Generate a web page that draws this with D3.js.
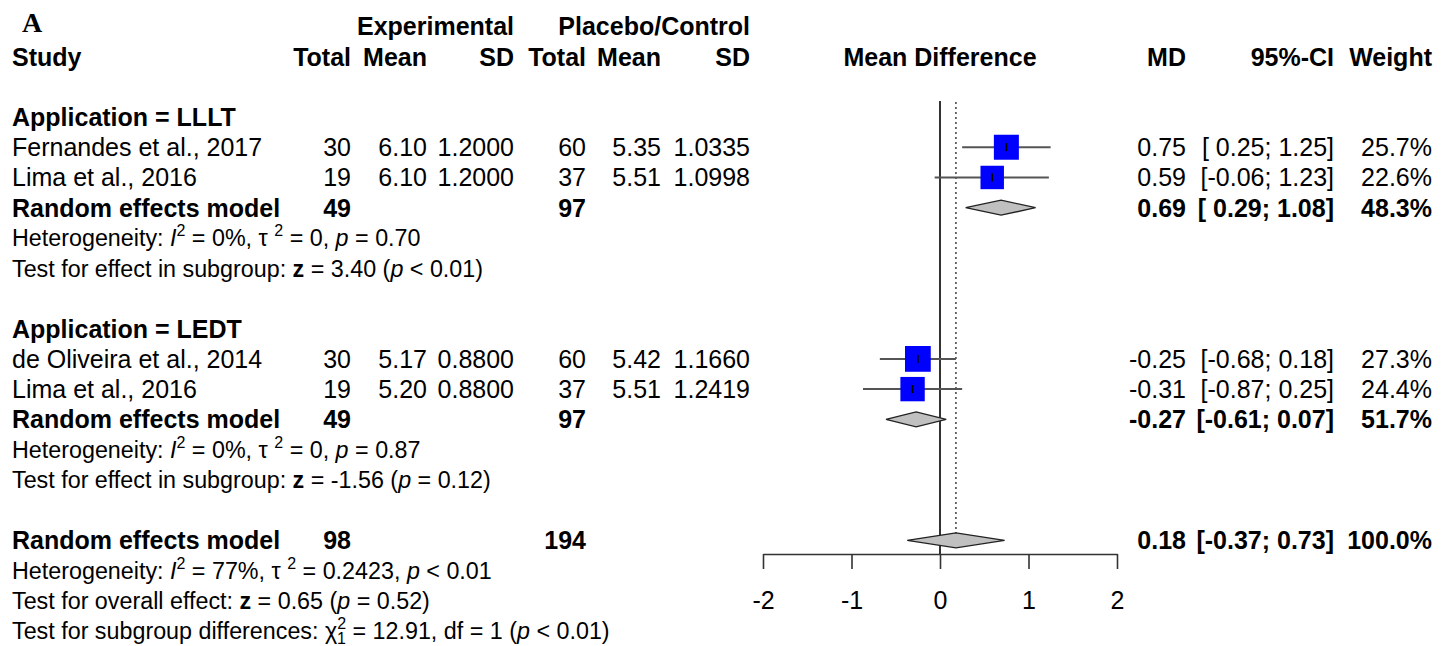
<!DOCTYPE html>
<html>
<head>
<meta charset="utf-8">
<script src="https://cdn.jsdelivr.net/npm/d3@7"></script>
<style>
  body { margin: 0; background: #fff; }
  svg { font-family: "Liberation Sans", Arial, Helvetica, sans-serif; }
  text { white-space: pre; }
</style>
</head>
<body>
<div id="chart"></div>
<script>
// study level data
const studies = ["Fernandes et al., 2017", "Lima et al., 2016", "de Oliveira et al., 2014", "Lima et al., 2016"];
const expTotal = [30, 19, 30, 19];
const expMean = [6.10, 6.10, 5.17, 5.20];
const expSD = [1.2, 1.2, 0.88, 0.88];
const ctlTotal = [60, 37, 60, 37];
const ctlMean = [5.35, 5.51, 5.42, 5.51];
const ctlSD = [1.0335, 1.0998, 1.1660, 1.2419];
const md = [0.75, 0.59, -0.25, -0.31];
const ciLow = [0.25, -0.06, -0.68, -0.87];
const ciHigh = [1.25, 1.23, 0.18, 0.25];
const weight = [25.7, 22.6, 27.3, 24.4];
const studyRow = [1, 2, 8, 9];

// pooled (random effects) estimates: LLLT, LEDT, overall
const groupLabels = ["Application = LLLT", "Application = LEDT"];
const groupRow = [0, 7];
const poolRow = [3, 10, 14];
const poolExpTotal = [49, 49, 98];
const poolCtlTotal = [97, 97, 194];
const poolMd = [0.69, -0.27, 0.18];
const poolLow = [0.29, -0.61, -0.37];
const poolHigh = [1.08, 0.07, 0.73];
const poolWeight = [48.3, 51.7, 100.0];

const xTicks = [-2, -1, 0, 1, 2];

const W = 1450, H = 646;
const fs = 25;       // table text
const fsHet = 23.3;  // heterogeneity / test lines

const svg = d3.select("#chart").append("svg")
  .attr("width", W).attr("height", H);

// rows -> vertical position
const y = d3.scaleLinear().domain([0, 17]).range([117, 631]);
const x = d3.scaleLinear().domain([-2, 2]).range([763, 1117]);
const size = d3.scaleSqrt().domain([0, 25.7]).range([0, 25]);

// plain hyphen for negatives, like R output
const loc = d3.formatLocale({ decimal: ".", thousands: ",", grouping: [3], currency: ["", ""], minus: "-" });
const f2 = loc.format(".2f"), f4 = loc.format(".4f"), f1 = loc.format(".1f");
const ci = (lo, hi) => "[" + (lo >= 0 ? " " : "") + f2(lo) + "; " + f2(hi) + "]";

// columns (right edge unless noted)
const col = { study: 12, eT: 351, eM: 427, eS: 514, cT: 586, cM: 661, cS: 750, md: 1186, ci: 1334, w: 1432 };

function txt(xp, row, s, opts = {}) {
  return svg.append("text")
    .attr("x", xp)
    .attr("y", y(row))
    .attr("dy", "0.36em")
    .attr("font-size", opts.size || fs)
    .attr("font-weight", opts.bold ? "bold" : null)
    .attr("text-anchor", opts.anchor || "end")
    .text(s);
}

// rich text with italics / superscripts
function rich(row, parts) {
  const t = svg.append("text")
    .attr("x", col.study).attr("y", y(row)).attr("dy", "0.36em")
    .attr("font-size", fsHet);
  parts.forEach(p => {
    if (typeof p === "string") { t.append("tspan").text(p); return; }
    const sp = t.append("tspan").text(p.t);
    if (p.i) sp.attr("font-style", "italic");
    if (p.b) sp.attr("font-weight", "bold");
    if (p.sup) sp.attr("font-size", 16).attr("dy", -10);
    if (p.after) sp.attr("dy", p.after);
    if (p.sub) sp.attr("font-size", 16).attr("dy", p.sub).attr("dx", p.subdx);
  });
  return t;
}

// panel label
svg.append("text").attr("x", 22).attr("y", 32)
  .attr("font-family", "'Liberation Serif', 'Times New Roman', serif")
  .attr("font-weight", "bold").attr("font-size", 28).text("A");

// headers
txt(col.eS, -3, "Experimental", { bold: true });
txt(col.cS, -3, "Placebo/Control", { bold: true });
txt(col.study, -2, "Study", { bold: true, anchor: "start" });
txt(col.eT, -2, "Total", { bold: true });
txt(col.eM, -2, "Mean", { bold: true });
txt(col.eS, -2, "SD", { bold: true });
txt(col.cT, -2, "Total", { bold: true });
txt(col.cM, -2, "Mean", { bold: true });
txt(col.cS, -2, "SD", { bold: true });
txt(x(0), -2, "Mean Difference", { bold: true, anchor: "middle" });
txt(col.md, -2, "MD", { bold: true });
txt(col.ci, -2, "95%-CI", { bold: true });
txt(col.w, -2, "Weight", { bold: true });

groupLabels.forEach((g, i) => txt(col.study, groupRow[i], g, { bold: true, anchor: "start" }));

studies.forEach((s, i) => {
  const r = studyRow[i];
  txt(col.study, r, s, { anchor: "start" });
  txt(col.eT, r, expTotal[i]);
  txt(col.eM, r, f2(expMean[i]));
  txt(col.eS, r, f4(expSD[i]));
  txt(col.cT, r, ctlTotal[i]);
  txt(col.cM, r, f2(ctlMean[i]));
  txt(col.cS, r, f4(ctlSD[i]));
  txt(col.md, r, f2(md[i]));
  txt(col.ci, r, ci(ciLow[i], ciHigh[i]));
  txt(col.w, r, f1(weight[i]) + "%");
});

poolRow.forEach((r, i) => {
  txt(col.study, r, "Random effects model", { bold: true, anchor: "start" });
  txt(col.eT, r, poolExpTotal[i], { bold: true });
  txt(col.cT, r, poolCtlTotal[i], { bold: true });
  txt(col.md, r, f2(poolMd[i]), { bold: true });
  txt(col.ci, r, ci(poolLow[i], poolHigh[i]), { bold: true });
  txt(col.w, r, f1(poolWeight[i]) + "%", { bold: true });
});

// heterogeneity and test lines
const het = (I2, tau2, p) => ["Heterogeneity: ", { t: "I", i: true }, { t: "2", sup: true }, { t: " = " + I2 + ", ", after: 10 },
  { t: "\u03c4 " }, { t: "2", sup: true }, { t: " = " + tau2 + ", ", after: 10 }, { t: "p", i: true }, " " + p];
rich(4, het("0%", "0", "= 0.70"));
rich(5, ["Test for effect in subgroup: ", { t: "z", b: true }, " = 3.40 (", { t: "p", i: true }, " < 0.01)"]);
rich(11, het("0%", "0", "= 0.87"));
rich(12, ["Test for effect in subgroup: ", { t: "z", b: true }, " = -1.56 (", { t: "p", i: true }, " = 0.12)"]);
rich(15, het("77%", "0.2423", "< 0.01"));
rich(16, ["Test for overall effect: ", { t: "z", b: true }, " = 0.65 (", { t: "p", i: true }, " = 0.52)"]);
rich(17, ["Test for subgroup differences: ", "\u03c7", { t: "2", sup: true }, { t: "1", sub: 15, subdx: -9 },
  { t: " = 12.91, df = 1 (", after: -5 }, { t: "p", i: true }, " < 0.01)"]);

// forest plot
const g = svg.append("g");

// reference lines: no effect and overall estimate
g.append("line")
  .attr("x1", x(0)).attr("x2", x(0))
  .attr("y1", 101).attr("y2", 554)
  .attr("stroke", "#000").attr("stroke-width", 1.6);
g.append("line")
  .attr("x1", x(poolMd[2])).attr("x2", x(poolMd[2]))
  .attr("y1", 102).attr("y2", y(poolRow[2]))
  .attr("stroke", "#333").attr("stroke-width", 1.4)
  .attr("stroke-dasharray", "2,3");

// confidence intervals
g.selectAll(".ci").data(md).enter().append("line")
  .attr("class", "ci")
  .attr("x1", (d, i) => x(ciLow[i])).attr("x2", (d, i) => x(ciHigh[i]))
  .attr("y1", (d, i) => y(studyRow[i])).attr("y2", (d, i) => y(studyRow[i]))
  .attr("stroke", "#555").attr("stroke-width", 2);

g.selectAll(".box").data(md).enter().append("rect")
  .attr("class", "box")
  .attr("x", (d, i) => x(d) - size(weight[i]) / 2)
  .attr("y", (d, i) => y(studyRow[i]) - size(weight[i]) / 2)
  .attr("width", (d, i) => size(weight[i]))
  .attr("height", (d, i) => size(weight[i]))
  .attr("fill", "#0000ff");

g.selectAll(".est").data(md).enter().append("line")
  .attr("class", "est")
  .attr("x1", d => x(d)).attr("x2", d => x(d))
  .attr("y1", (d, i) => y(studyRow[i]) - 4).attr("y2", (d, i) => y(studyRow[i]) + 4)
  .attr("stroke", "#000").attr("stroke-width", 1.6);

// diamonds
g.selectAll(".diamond").data(poolMd).enter().append("path")
  .attr("class", "diamond")
  .attr("d", (d, i) => {
    const yy = y(poolRow[i]);
    return d3.line()([[x(poolLow[i]), yy], [x(d), yy - 7.5], [x(poolHigh[i]), yy], [x(d), yy + 7.5]]) + "Z";
  })
  .attr("fill", "#c0c0c0").attr("stroke", "#222").attr("stroke-width", 1.3);

// x axis
const axis = g.append("g")
  .attr("transform", "translate(0,554)")
  .call(d3.axisBottom(x).tickValues(xTicks).tickSize(15).tickSizeOuter(0).tickPadding(22).tickFormat(loc.format("d")));
axis.select(".domain").attr("stroke", "#333").attr("stroke-width", 1.6);
axis.selectAll(".tick line").attr("stroke", "#333").attr("stroke-width", 1.6);
axis.selectAll(".tick text")
  .attr("font-family", "'Liberation Sans', Arial, sans-serif")
  .attr("font-size", fs).attr("fill", "#000");
</script>
</body>
</html>
